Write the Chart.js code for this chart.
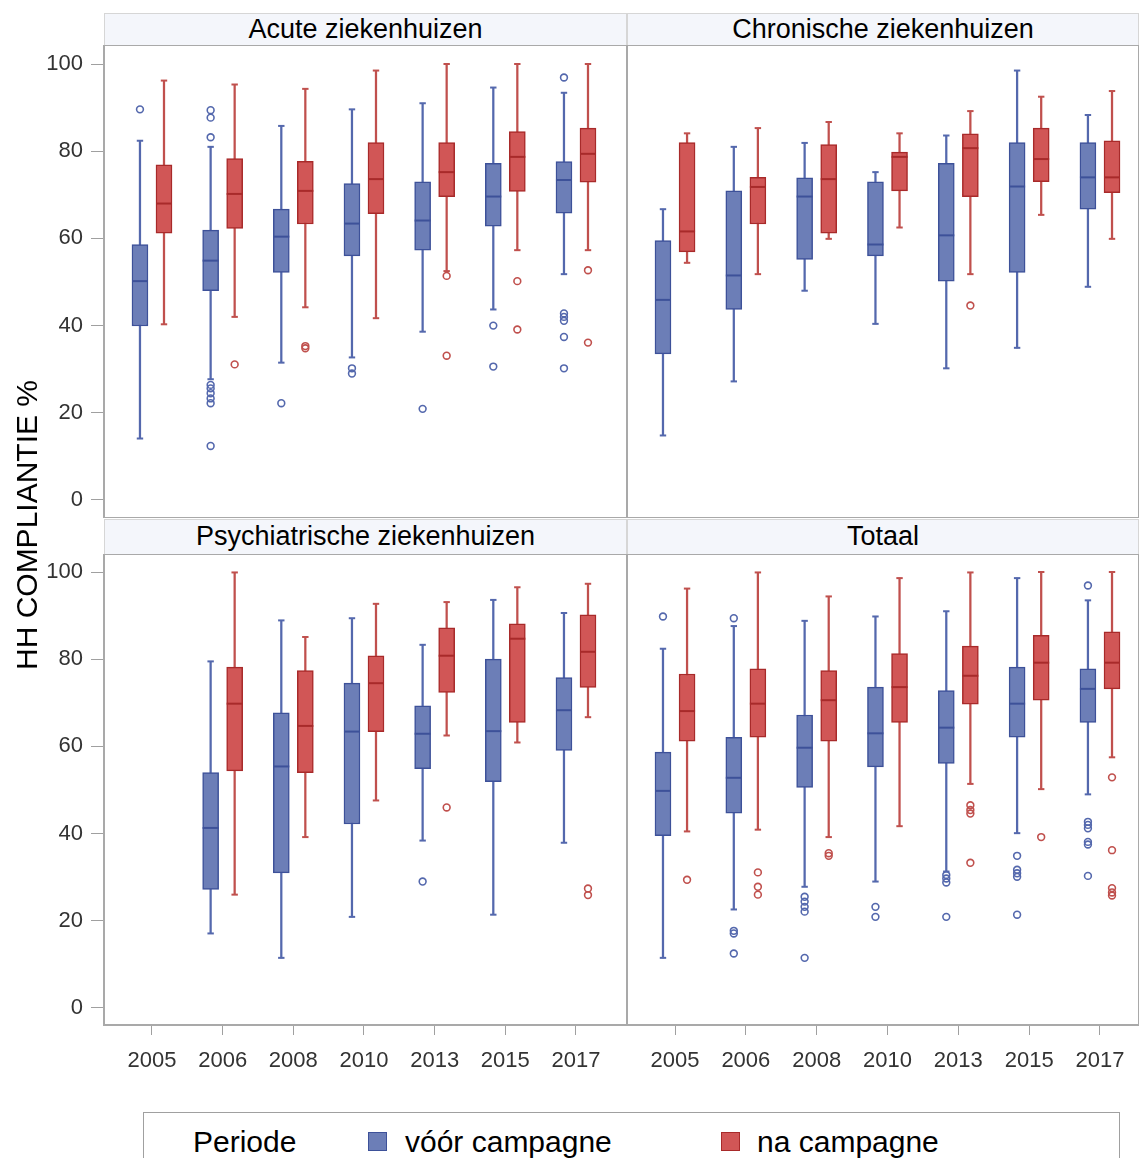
<!DOCTYPE html>
<html><head><meta charset="utf-8">
<script src="https://cdn.jsdelivr.net/npm/chart.js@4.4.0/dist/chart.umd.min.js"></script>
<style>
body{margin:0;background:#fff;width:1139px;height:1158px;overflow:hidden;position:relative;font-family:"Liberation Sans",Arial,sans-serif;}
.pane{position:absolute;}
.pane canvas{display:block;}
.strip{position:absolute;background:#f4f6fb;border:1px solid #d6d6d6;border-bottom:none;box-sizing:border-box;text-align:center;font-size:27px;color:#000;white-space:nowrap;}
#ytitle{position:absolute;left:-173px;top:508px;width:400px;height:34px;line-height:34px;text-align:center;font-size:30px;color:#000;transform:rotate(-90deg);white-space:nowrap;}
#legend{position:absolute;left:143px;top:1112px;width:977px;height:80px;border:1px solid #a0a0a0;box-sizing:border-box;}
.lt{position:absolute;font-size:30px;line-height:40px;top:1122px;color:#000;white-space:nowrap;}
.sw{position:absolute;width:19px;height:19px;top:1132px;box-sizing:border-box;border:1.5px solid;}
</style></head>
<body>
<div class="strip" style="left:104px;top:13px;width:523px;height:32px;line-height:31px;">Acute ziekenhuizen</div>
<div class="strip" style="left:627px;top:13px;width:512px;height:32px;line-height:31px;">Chronische ziekenhuizen</div>
<div class="strip" style="left:104px;top:519px;width:523px;height:35px;line-height:33px;">Psychiatrische ziekenhuizen</div>
<div class="strip" style="left:627px;top:519px;width:512px;height:35px;line-height:33px;">Totaal</div>

<div class="pane" style="left:0;top:45px;"><canvas id="cAcute" width="627" height="473"></canvas></div>
<div class="pane" style="left:627px;top:45px;"><canvas id="cChron" width="512" height="473"></canvas></div>
<div class="pane" style="left:0;top:554px;"><canvas id="cPsych" width="627" height="531"></canvas></div>
<div class="pane" style="left:627px;top:554px;"><canvas id="cTot" width="512" height="531"></canvas></div>

<div id="ytitle">HH COMPLIANTIE %</div>

<div id="legend"></div>
<div class="lt" style="left:193px;">Periode</div>
<div class="sw" style="left:368px;background:#6c7eb7;border-color:#3d5199;"></div>
<div class="lt" style="left:405px;">vóór campagne</div>
<div class="sw" style="left:721px;background:#d15656;border-color:#a82a2a;"></div>
<div class="lt" style="left:757px;">na campagne</div>

<script>
// ---- DATA: each entry is [whisker low, Q1, median, Q3, whisker high] ----
const years = ['2005', '2006', '2008', '2010', '2013', '2015', '2017'];

const acuteVoor = [
  [14.1, 39.9, 50.2, 58.6, 82.4],
  [27.7, 48.0, 54.9, 61.9, 81.0],
  [31.5, 52.2, 60.4, 66.7, 85.8],
  [32.7, 56.0, 63.4, 72.6, 89.6],
  [38.6, 57.3, 64.1, 73.0, 91.0],
  [43.7, 62.8, 69.6, 77.2, 94.6],
  [51.8, 65.8, 73.4, 77.6, 93.4]
];
const acuteVoorOut = [[89.6], [89.4, 87.7, 83.2, 26.4, 25.6, 24.5, 23.3, 22.2, 12.4], [22.2], [30.2, 29.0], [20.9], [40.0, 30.6], [96.9, 42.8, 42.0, 41.1, 37.4, 30.2]];
const acuteNa = [
  [40.3, 61.2, 68.0, 76.9, 96.2],
  [42.0, 62.3, 70.2, 78.3, 95.3],
  [44.2, 63.3, 70.9, 77.7, 94.3],
  [41.7, 65.7, 73.6, 82.0, 98.5],
  [52.5, 69.6, 75.2, 82.0, 100],
  [57.3, 70.8, 78.7, 84.5, 100],
  [57.3, 72.9, 79.4, 85.3, 100]
];
const acuteNaOut = [[], [31.1], [35.3, 34.8], [], [51.4, 33.1], [50.2, 39.1], [52.7, 36.1]];

const chronVoor = [
  [14.8, 33.5, 45.9, 59.5, 66.7],
  [27.2, 43.7, 51.5, 70.9, 81.0],
  [48.0, 55.2, 69.6, 73.9, 81.9],
  [40.4, 56.0, 58.6, 73.0, 75.2],
  [30.2, 50.2, 60.7, 77.2, 83.6],
  [34.9, 52.2, 71.9, 82.0, 98.5],
  [48.9, 66.7, 74.0, 82.0, 88.3]
];
const chronVoorOut = [[], [], [], [], [], [], []];
const chronNa = [
  [54.4, 56.9, 61.6, 82.0, 84.1],
  [51.8, 63.3, 71.8, 74.0, 85.3],
  [59.9, 61.2, 73.6, 81.5, 86.7],
  [62.5, 70.9, 78.7, 79.8, 84.1],
  [51.8, 69.6, 80.7, 84.0, 89.2],
  [65.4, 73.0, 78.2, 85.3, 92.5],
  [59.9, 70.5, 74.0, 82.4, 93.8]
];
const chronNaOut = [[], [], [], [], [44.6], [], []];

const psychVoor = [
  null,
  [17.1, 27.2, 41.3, 54.0, 79.5],
  [11.5, 31.0, 55.4, 67.7, 88.9],
  [20.9, 42.2, 63.4, 74.5, 89.4],
  [38.4, 54.9, 62.9, 69.3, 83.3],
  [21.4, 51.9, 63.5, 80.0, 93.6],
  [37.9, 59.1, 68.3, 75.8, 90.6]
];
const psychVoorOut = [[], [], [], [], [29.0], [], []];
const psychNa = [
  null,
  [26.0, 54.4, 69.8, 78.2, 99.9],
  [39.2, 54.0, 64.7, 77.4, 85.1],
  [47.6, 63.4, 74.5, 80.8, 92.7],
  [62.5, 72.4, 80.8, 87.2, 93.1],
  [60.9, 65.5, 84.7, 88.1, 96.5],
  [66.7, 73.5, 81.7, 90.2, 97.3]
];
const psychNaOut = [[], [], [], [], [46.0], [], [27.4, 25.9]];

const totVoor = [
  [11.5, 39.5, 49.8, 58.7, 82.4],
  [22.6, 44.7, 52.8, 62.1, 87.6],
  [27.8, 50.6, 59.7, 67.2, 88.8],
  [29.0, 55.3, 63.0, 73.6, 89.8],
  [31.3, 56.1, 64.3, 72.8, 91.0],
  [40.1, 62.1, 69.8, 78.2, 98.6],
  [49.0, 65.5, 73.2, 77.8, 93.5]
];
const totVoorOut = [[89.8], [89.4, 17.7, 17.1, 12.5], [25.5, 24.4, 23.2, 22.1, 11.5], [23.2, 20.9], [30.5, 29.7, 28.8, 20.9], [34.9, 31.7, 30.9, 30.1, 21.4], [96.9, 42.7, 42.0, 41.2, 38.1, 37.5, 30.3]];
const totNa = [
  [40.5, 61.2, 68.1, 76.6, 96.2],
  [40.9, 62.1, 69.8, 77.8, 99.9],
  [39.2, 61.2, 70.6, 77.4, 94.4],
  [41.7, 65.5, 73.6, 81.3, 98.6],
  [51.4, 69.7, 76.2, 83.0, 99.9],
  [50.2, 70.6, 79.2, 85.5, 100],
  [57.5, 73.2, 79.2, 86.3, 100]
];
const totNaOut = [[29.4], [31.1, 27.8, 26.0], [35.5, 34.9], [], [46.5, 45.4, 44.6, 33.3], [39.2], [52.9, 36.2, 27.5, 26.5, 25.8]];

const yTicks = [0, 20, 40, 60, 80, 100];

// ---- STYLE ----
const FONT = '"Liberation Sans", Arial, sans-serif';
Chart.defaults.font.family = FONT;
const styles = {
  voor: { fill: '#6c7eb7', edge: '#3d5199', line: '#5468ad', offset: -0.17 },
  na:   { fill: '#d15656', edge: '#a82a2a', line: '#c0504d', offset: 0.17 }
};

function periodDatasets(stats, outs, st) {
  const pts = [];
  stats.forEach((s, i) => { if (s) pts.push({ i, s }); });
  const x = i => i + st.offset;
  const outliers = [];
  outs.forEach((arr, i) => arr.forEach(v => outliers.push({ x: x(i), y: v })));
  const caps = [];
  pts.forEach(p => { caps.push({ x: x(p.i), y: p.s[0] }); caps.push({ x: x(p.i), y: p.s[4] }); });
  return [
    { type: 'bar', grouped: false, order: 5, barThickness: 1.6, borderWidth: 0,
      backgroundColor: st.line, data: pts.map(p => ({ x: x(p.i), y: [p.s[0], p.s[4]] })) },
    { type: 'bar', grouped: false, order: 4, barThickness: 16, borderWidth: 1.5, borderSkipped: false,
      backgroundColor: st.fill, borderColor: st.edge, data: pts.map(p => ({ x: x(p.i), y: [p.s[1], p.s[3]] })) },
    { type: 'scatter', order: 3, pointStyle: 'line', pointRadius: 8, borderWidth: 2,
      borderColor: st.edge, backgroundColor: st.edge, data: pts.map(p => ({ x: x(p.i), y: p.s[2] })) },
    { type: 'scatter', order: 3, pointStyle: 'line', pointRadius: 3.2, borderWidth: 2,
      borderColor: st.line, backgroundColor: st.line, data: caps },
    { type: 'scatter', order: 1, pointStyle: 'circle', pointRadius: 3.4, borderWidth: 1.6,
      borderColor: st.line, backgroundColor: 'rgba(255,255,255,0)', data: outliers }
  ];
}

const frame = {
  id: 'frame',
  afterDatasetsDraw(chart) {
    const { ctx, chartArea: a } = chart;
    ctx.save();
    ctx.strokeStyle = '#a9a9a9';
    ctx.lineWidth = 2;
    ctx.strokeRect(a.left, a.top, a.right - a.left, a.bottom - a.top);
    ctx.restore();
  }
};

function makeChart(id, voor, voorOut, na, naOut, o) {
  new Chart(document.getElementById(id), {
    type: 'bar',
    data: { datasets: [...periodDatasets(voor, voorOut, styles.voor), ...periodDatasets(na, naOut, styles.na)] },
    options: {
      responsive: false, animation: false, events: [],
      layout: { padding: 0, autoPadding: false },
      plugins: { legend: { display: false }, tooltip: { enabled: false }, title: { display: false } },
      scales: {
        x: {
          type: 'linear', min: o.xmin, max: o.xmax, offset: false, display: o.showX,
          grid: { display: true, offset: false, drawOnChartArea: false, drawTicks: true, tickLength: 10, color: '#a0a0a0', tickColor: '#a0a0a0' },
          border: { display: false },
          ticks: { stepSize: 1, includeBounds: false, autoSkip: false, maxRotation: 0, minRotation: 0, padding: 13,
                   color: '#333', font: { size: 22, family: FONT },
                   callback: v => years[v] !== undefined ? years[v] : '' },
          afterFit: s => { s.height = o.showX ? 60 : 0; s.paddingLeft = 0; s.paddingRight = 0; }
        },
        y: {
          type: 'linear', min: o.ymin, max: o.ymax, display: o.showY, beginAtZero: false,
          grid: { display: true, drawOnChartArea: false, drawTicks: true, tickLength: 13, color: '#a0a0a0', tickColor: '#a0a0a0' },
          border: { display: false },
          afterBuildTicks: s => { s.ticks = yTicks.map(v => ({ value: v })); },
          ticks: { padding: 8, color: '#333', font: { size: 22, family: FONT } },
          afterFit: s => { s.width = o.showY ? 104 : 0; s.paddingTop = 0; s.paddingBottom = 0; }
        }
      }
    },
    plugins: [frame]
  });
}

const leftX = { xmin: -0.679, xmax: 6.722 };
const rightX = { xmin: -0.678, xmax: 6.551 };
const topY = { ymin: -4.13, ymax: 104.36 };
const botY = { ymin: -3.90, ymax: 104.13 };

makeChart('cAcute', acuteVoor, acuteVoorOut, acuteNa, acuteNaOut, { ...leftX, ...topY, showX: false, showY: true });
makeChart('cChron', chronVoor, chronVoorOut, chronNa, chronNaOut, { ...rightX, ...topY, showX: false, showY: false });
makeChart('cPsych', psychVoor, psychVoorOut, psychNa, psychNaOut, { ...leftX, ...botY, showX: true, showY: true });
makeChart('cTot', totVoor, totVoorOut, totNa, totNaOut, { ...rightX, ...botY, showX: true, showY: false });
</script>
</body></html>
